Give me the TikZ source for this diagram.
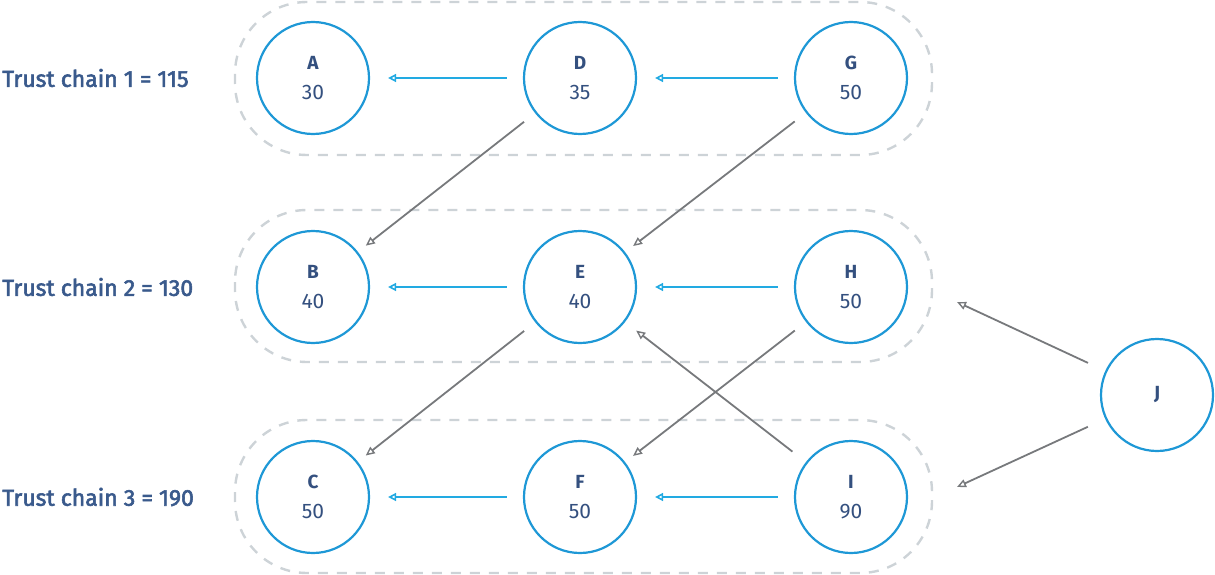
\documentclass[tikz,border=0pt]{standalone}
\usepackage{fontspec}
\setmainfont{Fira Sans}
\newfontfamily\labelfont[FakeBold=2.5]{Fira Sans}
\usetikzlibrary{arrows.meta}
\definecolor{ringblue}{HTML}{1E98D6}
\definecolor{arrowblue}{HTML}{22AAE2}
\definecolor{navy}{HTML}{34507F}
\definecolor{labelblue}{HTML}{3A5A8C}
\definecolor{dashgray}{HTML}{CDD3D7}
\definecolor{linkgray}{HTML}{77797C}
\tikzset{
  trustnode/.style={circle, draw=ringblue, line width=2.2pt, minimum size=112pt, inner sep=0pt, fill=white, text=navy, align=center},
  chainbox/.style={draw=dashgray, line width=2.4pt, dash pattern=on 10pt off 9pt, rounded corners=72pt},
  bluearrow/.style={draw=arrowblue, line width=2pt, -{Triangle[open, length=8pt, width=8pt, line width=1.6pt]}, shorten <=16pt, shorten >=18pt},
  grayarrow/.style={draw=linkgray, line width=1.8pt, -{Triangle[open, length=9pt, width=8pt, line width=1.4pt]}, shorten <=14pt, shorten >=10pt},
  chainlabel/.style={anchor=west, text=labelblue, font=\labelfont\fontsize{23}{24}\selectfont, inner sep=0pt},
}
\newcommand{\nodetext}[2]{{\fontsize{19}{20}\selectfont\bfseries #1}\\[15pt]{\fontsize{21}{22}\selectfont #2}}
\begin{document}
\begin{tikzpicture}[x=1pt,y=-1pt]
\useasboundingbox (0,0) rectangle (1215,575);
% chain boxes
\draw[chainbox] (235,2) rectangle (932,155);
\draw[chainbox] (235,210) rectangle (932,362);
\draw[chainbox] (235,420) rectangle (932,573);
% labels
\node[chainlabel] (l1) at (2,78) {Trust chain 1 = 115};
\node[chainlabel] (l2) at (2,287) {Trust chain 2 = 130};
\node[chainlabel] (l3) at (2,497) {Trust chain 3 = 190};
% nodes
\node[trustnode] (A) at (313,78) {\nodetext{A}{30}};
\node[trustnode] (D) at (580,78) {\nodetext{D}{35}};
\node[trustnode] (G) at (851,78) {\nodetext{G}{50}};
\node[trustnode] (B) at (313,287) {\nodetext{B}{40}};
\node[trustnode] (E) at (580,287) {\nodetext{E}{40}};
\node[trustnode] (H) at (851,287) {\nodetext{H}{50}};
\node[trustnode] (C) at (313,497) {\nodetext{C}{50}};
\node[trustnode] (F) at (580,497) {\nodetext{F}{50}};
\node[trustnode] (I) at (851,497) {\nodetext{I}{90}};
\node[trustnode, font=\fontsize{19}{20}\selectfont\bfseries] (J) at (1157,395) {J};
\coordinate (jh) at (957,302);
\coordinate (ji) at (957,487);
% blue arrows
\draw[bluearrow] (D) -- (A);
\draw[bluearrow] (G) -- (D);
\draw[bluearrow] (E) -- (B);
\draw[bluearrow] (H) -- (E);
\draw[bluearrow] (F) -- (C);
\draw[bluearrow] (I) -- (F);
% gray arrows
\draw[grayarrow] (D) -- (B);
\draw[grayarrow] (G) -- (E);
\draw[grayarrow] (E) -- (C);
\draw[grayarrow] (H) -- (F);
\draw[grayarrow, shorten <=17pt, shorten >=14pt] (I) -- (E);
\draw[grayarrow, shorten <=19pt, shorten >=0pt] (J) -- (jh);
\draw[grayarrow, shorten <=19pt, shorten >=0pt] (J) -- (ji);
\end{tikzpicture}
\end{document}
